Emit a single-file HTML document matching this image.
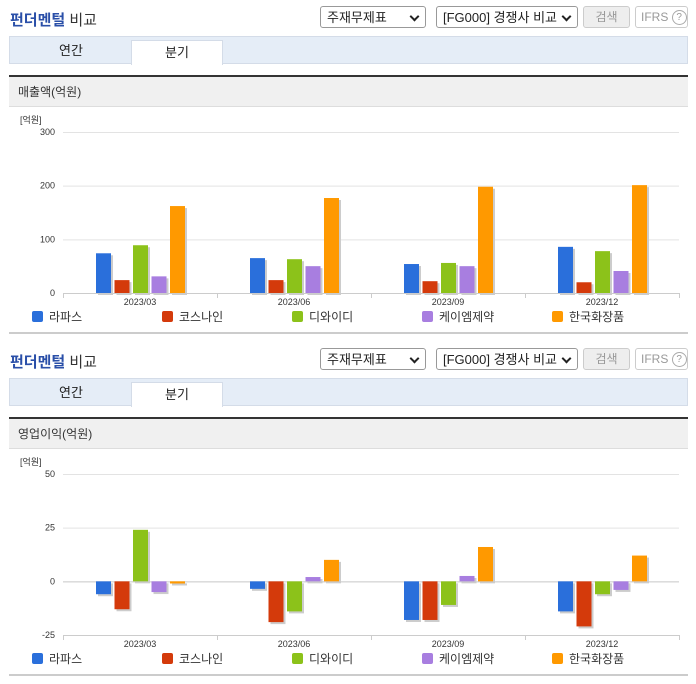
<!DOCTYPE html>
<html><head><meta charset="utf-8">
<style>
body{margin:0;width:696px;height:684px;background:#fff;font-family:"Liberation Sans","Noto Sans CJK KR",sans-serif;position:relative;overflow:hidden}
.sec{position:absolute;left:0;width:696px;height:342px}
.title{position:absolute;left:10px;top:9px;font-size:15px;font-weight:bold;color:#2a4fa8}
.title span{color:#333;font-weight:normal}
.sel{position:absolute;top:6px;height:22px;border:1px solid #999;border-radius:3px;background:#fff;font-size:13px;line-height:22px;padding-left:6px;box-sizing:border-box;color:#222}
.sel:after{content:"";position:absolute;right:7px;top:6px;width:5px;height:5px;border-right:2px solid #222;border-bottom:2px solid #222;transform:rotate(45deg)}
.btn{position:absolute;top:6px;height:22px;border:1px solid #ccc;border-radius:3px;box-sizing:border-box;font-size:12px;line-height:20px;text-align:center;color:#999}
.tabs{position:absolute;left:9px;top:36px;width:679px;height:28px;background:#e5edf7;border:1px solid #d4dce8;box-sizing:border-box}
.tab{position:absolute;top:0;height:28px;line-height:28px;text-align:center;font-size:13px;color:#222}
.tab.on{background:#fff;border:1px solid #d4dce8;border-bottom:none;top:3px;height:25px;line-height:24px;box-sizing:border-box}
.hline{position:absolute;left:9px;top:75px;width:679px;height:2px;background:#333}
.hdr{position:absolute;left:9px;top:77px;width:679px;height:30px;background:#f0f0f0;border-bottom:1px solid #ddd;box-sizing:border-box;font-size:12px;line-height:30px;padding-left:9px;color:#333}
.bline{position:absolute;left:9px;top:332px;width:679px;height:2px;background:#ccc}
svg{position:absolute;left:0;top:0}
</style></head><body>
<div class="sec" id="s1" style="top:0"></div>
<div class="sec" id="s2" style="top:342px"></div>
<script>
const categories=["2023/03","2023/06","2023/09","2023/12"];
const seriesNames=["라파스","코스나인","디와이디","케이엠제약","한국화장품"];
const colors=["#2a6fdb","#d43a0b","#8cc21a","#a87ee0","#ff9900"];
const revenue=[[74,65,54,86],[24,24,22,20],[89,63,56,78],[31,50,50,41],[162,177,198,201]];
const profit=[[-6,-3.5,-18,-14],[-13,-19,-18,-21],[24,-14,-11,-6],[-5,2,2.5,-4],[-1,10,16,12]];
const revTicks=[0,100,200,300];
const profTicks=[-25,0,25,50];
const NS="http://www.w3.org/2000/svg";
function mk(tag,attrs,parent){const e=document.createElementNS(NS,tag);for(const k in attrs)e.setAttribute(k,attrs[k]);parent.appendChild(e);return e;}
function build(sec,label,data,ticks,prefix){
  sec.innerHTML=`<div class="title">펀더멘털 <span>비교</span></div>
  <div class="sel" style="left:320px;width:106px">주재무제표</div>
  <div class="sel" style="left:436px;width:142px">[FG000] 경쟁사 비교</div>
  <div class="btn" style="left:583px;width:47px;background:#eee">검색</div>
  <div class="btn" style="left:635px;width:53px;text-align:left;padding-left:5px">IFRS <span style="display:inline-block;width:13px;height:13px;border:1px solid #aaa;border-radius:50%;font-size:10px;line-height:13px;text-align:center;vertical-align:middle">?</span></div>
  <div class="tabs"><div class="tab" style="left:0;width:122px">연간</div><div class="tab on" style="left:121px;width:92px">분기</div></div>
  <div class="hline"></div>
  <div class="hdr">${label}</div>
  <div class="bline"></div>`;
  const svg=mk("svg",{width:696,height:342},sec);
  
  
  const x0=63,x1=679,yTop=132,yBot=293;
  const mn=ticks[0],mx=ticks[ticks.length-1];
  const y=v=>yBot-(v-mn)/(mx-mn)*(yBot-yTop);
  const t=mk("text",{x:20,y:123,"font-size":9,fill:"#333"},svg);t.textContent="[억원]";
  
  
  ticks.forEach(v=>{
    const l=mk("line",{x1:x0,x2:x1,y1:y(v)+.5,y2:y(v)+.5,stroke:v===mn?"#ccc":"#e3e3e3"},svg);
    
    
    const tx=mk("text",{x:55,y:y(v)+3,"font-size":9,fill:"#333","text-anchor":"end"},svg);tx.textContent=v;
    
    
  });
  if(mn<0){const z=mk("line",{x1:x0,x2:x1,y1:y(0)+.5,y2:y(0)+.5,stroke:"#ccc"},svg);}
  const cw=(x1-x0)/categories.length;
  categories.forEach((c,i)=>{
    const cx=x0+cw*(i+.5);
    [x0+cw*i,x0+cw*(i+1)].forEach(tx=>{const tk=mk("line",{x1:tx+.5,x2:tx+.5,y1:yBot,y2:yBot+5,stroke:"#ccc"},svg);});
    const lb=mk("text",{x:cx,y:yBot+12,"font-size":9,fill:"#333","text-anchor":"middle"},svg);lb.textContent=c;
    
    
    data.forEach((s,j)=>{
      const v=s[i],bx=cx-44+j*18.5,bw=15;
      const ya=y(Math.max(v,0)),yb=y(Math.min(v,0));
      const sh=mk("rect",{x:bx+2,y:ya+2,width:bw,height:Math.max(yb-ya,1),fill:"#ccc"},svg);
      
      
      const r=mk("rect",{x:bx,y:ya,width:bw,height:Math.max(yb-ya,1),fill:colors[j]},svg);
      
      
    });
  });
  const lx=[32,162,292,422,552];
  seriesNames.forEach((n,j)=>{
    const g=mk("g",{},svg);
    
    
    mk("rect",{x:lx[j],y:311,width:11,height:11,rx:2,fill:colors[j]},g);
    const tx=mk("text",{x:lx[j]+17,y:321,"font-size":12,fill:"#333"},g);tx.textContent=n;
  });
}
build(document.getElementById("s1"),"매출액(억원)",revenue,revTicks,"revenue");
build(document.getElementById("s2"),"영업이익(억원)",profit,profTicks,"profit");
</script>
</body></html>
